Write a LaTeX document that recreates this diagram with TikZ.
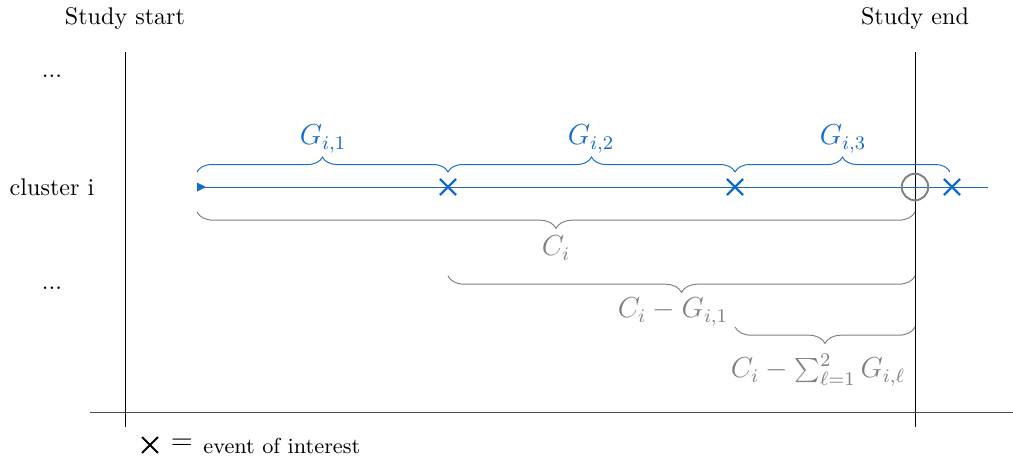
\documentclass[tikz,border=0pt]{standalone}
\usetikzlibrary{decorations.pathreplacing,shapes.misc,arrows.meta}
\definecolor{evblue}{RGB}{20,108,200}
\definecolor{cgray}{RGB}{128,128,128}
\begin{document}
\begin{tikzpicture}[x=0.415pt,y=-0.415pt,
  lbl/.style={font=\normalsize},
  xmark/.style={cross out,draw=evblue,line width=0.9pt,minimum size=5.8pt,inner sep=0pt},
  bluebrace/.style={draw=evblue,thin,decorate,decoration={brace,amplitude=6.2pt}},
  graybrace/.style={draw=cgray,thin,decorate,decoration={brace,amplitude=6.8pt,mirror}},
  glbl/.style={text=evblue,font=\large},
  clbl/.style={text=cgray,font=\large}]
\useasboundingbox (0,0) rectangle (1013,459);
% frame lines
\coordinate (ss1) at (125,52); \coordinate (ss2) at (125,427);
\coordinate (se1) at (915,52); \coordinate (se2) at (915,427);
\coordinate (b1) at (90,412); \coordinate (b2) at (1013,412);
\draw[black] (ss1) -- (ss2);
\draw[black] (se1) -- (se2);
\draw[black!70] (b1) -- (b2);
\node[lbl] (tstart) at (125,18) {Study start};
\node[lbl] (tend) at (915,18) {Study end};
\node[lbl] (dots1) at (52,76) {...};
\node[lbl] (cl) at (52,187) {cluster i};
\node[lbl] (dots2) at (52,288) {...};
% timeline
\coordinate (t0) at (197,187);
\coordinate (t1) at (988,187);
\draw[evblue] (t0) -- (t1);
\fill[evblue] (197,182.5) -- (206,187) -- (197,191.5) -- cycle;
\node[xmark] (x1) at (448,187) {};
\node[xmark] (x2) at (735,187) {};
\node[xmark] (x3) at (952,187) {};
\node[circle,draw=cgray,line width=0.8pt,minimum size=11pt,inner sep=0pt] (cens) at (915,187) {};
% blue braces
\coordinate (g0) at (197,172); \coordinate (g1) at (448,172);
\coordinate (g2) at (735,172); \coordinate (g3) at (950,172);
\draw[bluebrace] (g0) -- (g1);
\draw[bluebrace] (g1) -- (g2);
\draw[bluebrace] (g2) -- (g3);
\node[glbl] (G1) at (323,139) {$G_{i,1}$};
\node[glbl] (G2) at (591,139) {$G_{i,2}$};
\node[glbl] (G3) at (843,139) {$G_{i,3}$};
% gray braces
\coordinate (c0) at (197,212); \coordinate (c1) at (915,212);
\draw[graybrace] (c0) -- (c1);
\node[clbl] (C1) at (556,248) {$C_i$};
\coordinate (d0) at (448,276); \coordinate (d1) at (915,276);
\draw[graybrace] (d0) -- (d1);
\node[clbl] (C2) at (673,312) {$C_i-G_{i,1}$};
\coordinate (e0) at (735,327); \coordinate (e1) at (915,327);
\draw[graybrace] (e0) -- (e1);
\node[clbl] (C3) at (818,370) {$C_i-\sum_{\ell=1}^{2}G_{i,\ell}$};
% legend
\node[cross out,draw=black,line width=0.8pt,minimum size=5.8pt,inner sep=0pt] (lx) at (150,445) {};
\node[font=\large] (leq) at (182,444) {$=$};
\node[font=\small,anchor=west,inner sep=0pt] (leg) at (203,446) {event of interest};
\end{tikzpicture}
\end{document}
